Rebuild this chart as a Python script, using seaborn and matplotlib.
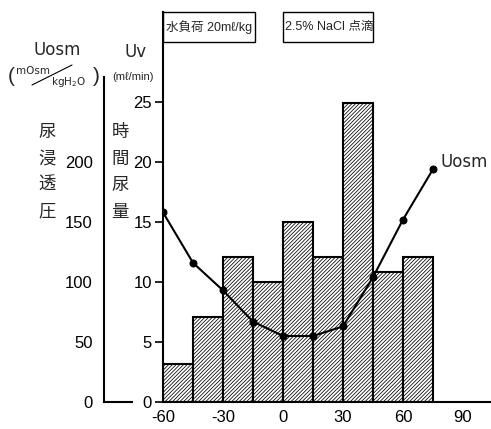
import numpy as np
import pandas as pd
import seaborn as sns
import matplotlib.pyplot as plt
from matplotlib.patches import Rectangle

# time bins (min), urine volume per bin (ml/min)
bin_start = [-60, -45, -30, -15, 0, 15, 30, 45, 60]
uv = [3.2, 7.1, 12.1, 10.0, 15.0, 12.1, 24.9, 10.8, 12.1]

# urine osmolality points
t_osm = [-60, -45, -30, -15, 0, 15, 30, 45, 60, 75]
uosm = [158, 116, 93, 67, 55, 55, 63, 104, 152, 194]

x_ticks = [-60, -30, 0, 30, 60, 90]
uv_ticks = [0, 5, 10, 15, 20, 25]
uosm_ticks = [0, 50, 100, 150, 200]

sns.set_style("white")
plt.rcParams['font.family'] = ['Liberation Sans', 'DejaVu Sans', 'Noto Sans CJK JP']
plt.rcParams['hatch.linewidth'] = 0.55
plt.rcParams['axes.unicode_minus'] = False

W, H = 491, 429
fig = plt.figure(figsize=(W / 100, H / 100), dpi=100)

def fx(px):
    return px / W

def fy(py):
    return 1 - py / H

# main axes: x from -60 (px 163) at 2px/min, y 0 (px 402) at 12px/unit
ax = fig.add_axes([fx(163), fy(402), fx(491 - 163), (402 - 12) / H])
df = pd.DataFrame({"t": [b + 7.5 for b in bin_start], "uv": uv})
sns.histplot(data=df, x="t", weights="uv", binwidth=15, binrange=(-60, 75),
             color="white", edgecolor="black", linewidth=1.5, alpha=1, ax=ax)
for p in ax.patches:
    p.set_hatch("/" * 9)
ax.set_xlim(-60, 104)
ax.set_ylim(0, 32.5)
ax.set_xticks(x_ticks)
ax.set_yticks(uv_ticks)
ax.set_xlabel("")
ax.set_ylabel("")
for s in ["top", "right"]:
    ax.spines[s].set_visible(False)
for s in ["left", "bottom"]:
    ax.spines[s].set_linewidth(1.5)
    ax.spines[s].set_color("black")
ax.tick_params(axis="both", direction="out", length=6, width=1.2,
               labelsize=12, colors="black", pad=2)
ax.tick_params(axis="x", length=5, pad=1)

# osmolality on a twin axis with the same pixel scale (10x)
ax2 = ax.twinx()
od = pd.DataFrame({"t": t_osm, "uosm": uosm})
sns.lineplot(data=od, x="t", y="uosm", color="black", linewidth=1.5,
             marker="o", markersize=5, markeredgecolor="black", ax=ax2)
ax2.set_ylim(0, 325)
ax2.set_axis_off()
ax2.text(79, 200, "Uosm", fontsize=12, va="center", ha="left",
         family=['DejaVu Sans'])

# boxes at the top
jp = ['Liberation Sans', 'Noto Sans CJK JP']
ax.add_patch(Rectangle((-60, 30), 46, 2.5, fill=False, edgecolor="black",
                       linewidth=1.0, clip_on=False))
ax.text(-58.5, 31.25, "水負荷 20mℓ/kg", fontsize=9, va="center", ha="left",
        family=jp)
ax.add_patch(Rectangle((0, 30), 45, 2.5, fill=False, edgecolor="black",
                       linewidth=1.0, clip_on=False))
ax.text(1, 31.25, "2.5% NaCl 点滴", fontsize=9, va="center", ha="left",
        family=jp)

# left osmolality axis
axl = fig.add_axes([fx(104), fy(402), fx(132 - 104), (402 - 77) / H])
axl.set_ylim(0, 270.8)
axl.set_yticks(uosm_ticks)
axl.set_xticks([])
for s in ["top", "right"]:
    axl.spines[s].set_visible(False)
for s in ["left", "bottom"]:
    axl.spines[s].set_linewidth(1.5)
    axl.spines[s].set_color("black")
axl.tick_params(axis="y", direction="out", length=6, width=1.2,
                labelsize=12, colors="black", pad=2)
axl.patch.set_alpha(0)

# axis titles
fig.text(fx(57), fy(50), "Uosm", fontsize=12, ha="center", va="center",
         family=['DejaVu Sans'])
fig.text(fx(11), fy(77), "(", fontsize=15, ha="center", va="center")
fig.text(fx(96), fy(77), ")", fontsize=15, ha="center", va="center")
fig.text(fx(33), fy(71), "mOsm", fontsize=7.5, ha="center", va="center",
         family=['DejaVu Sans'])
fig.text(fx(69), fy(82), "kgH$_2$O", fontsize=7.5, ha="center", va="center",
         family=['DejaVu Sans'])
fig.add_artist(plt.Line2D([fx(32), fx(72)], [fy(85), fy(65)],
                          color="black", linewidth=0.8))
fig.text(fx(136), fy(52), "Uv", fontsize=12, ha="center", va="center",
         family=['DejaVu Sans'])
fig.text(fx(133), fy(77), "(mℓ/min)", fontsize=8, ha="center", va="center")

for i, ch in enumerate("尿浸透圧"):
    fig.text(fx(47), fy(132 + i * 26.5), ch, fontsize=12.5, ha="center",
             va="center", family=['Noto Sans CJK JP'])
for i, ch in enumerate("時間尿量"):
    fig.text(fx(120), fy(132 + i * 26.5), ch, fontsize=12.5, ha="center",
             va="center", family=['Noto Sans CJK JP'])

fig.savefig("out.png", dpi=100, facecolor="white")
